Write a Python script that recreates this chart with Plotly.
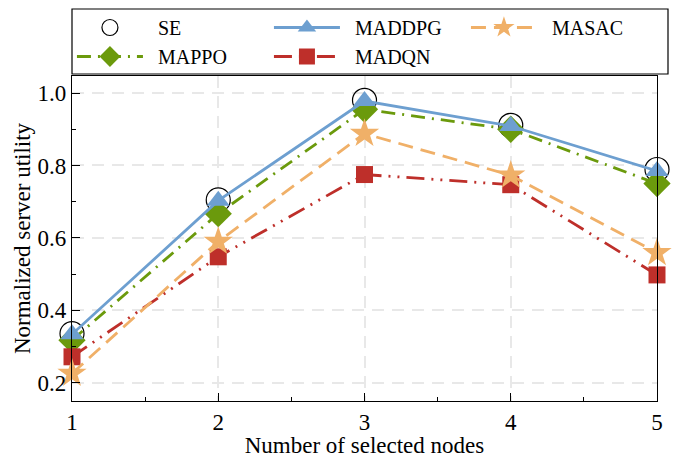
import plotly.graph_objects as go

nodes = [1, 2, 3, 4, 5]
se = [0.336, 0.705, 0.980, 0.911, 0.789]
maddpg = [0.334, 0.703, 0.978, 0.909, 0.785]
mappo = [0.318, 0.667, 0.955, 0.900, 0.750]
masac = [0.226, 0.590, 0.888, 0.773, 0.559]
madqn = [0.272, 0.548, 0.775, 0.747, 0.498]
names = ["SE", "MADDPG", "MASAC", "MAPPO", "MADQN"]

FONT = "Liberation Serif, Times New Roman, Times, serif"
BLUE = "#6d9fd0"
GREEN = "#6b9a0c"
ORANGE = "#f0b068"
RED = "#be2f2a"
PAD = "\u00a0\u00a0"

fig = go.Figure()
fig.add_trace(go.Scatter(x=nodes, y=se, name=PAD + names[0], mode="markers", cliponaxis=False,
                         marker=dict(symbol="circle-open", size=24, color="black",
                                     line=dict(width=1.2, color="black")),
                         legendrank=1))
fig.add_trace(go.Scatter(x=nodes, y=mappo, name=PAD + names[3], mode="lines+markers", cliponaxis=False,
                         line=dict(color=GREEN, width=2.8, dash="14px,7px,2px,7px"),
                         marker=dict(symbol="diamond", size=21, color=GREEN),
                         legendrank=4))
fig.add_trace(go.Scatter(x=nodes, y=maddpg, name=PAD + names[1], mode="lines+markers", cliponaxis=False,
                         line=dict(color=BLUE, width=2.8),
                         marker=dict(symbol="triangle-up", size=20, color=BLUE),
                         legendrank=2))
fig.add_trace(go.Scatter(x=nodes, y=madqn, name=PAD + names[4], mode="lines+markers", cliponaxis=False,
                         line=dict(color=RED, width=2.8, dash="18px,7px,2px,7px,2px,7px"),
                         marker=dict(symbol="square", size=17, color=RED),
                         legendrank=5))
fig.add_trace(go.Scatter(x=nodes, y=masac, name=PAD + names[2], mode="lines+markers", cliponaxis=False,
                         line=dict(color=ORANGE, width=2.8, dash="15px,8px"),
                         marker=dict(symbol="star", size=22, color=ORANGE),
                         legendrank=3))

axis_common = dict(
    showline=True, linecolor="black", linewidth=1.2, mirror=True,
    ticks="inside", ticklen=8, tickwidth=1.2, tickcolor="black",
    showgrid=True, gridcolor="#e8e8e8", gridwidth=2, griddash="12px,8px",
    zeroline=False, automargin=False,
    tickfont=dict(family=FONT, size=23, color="black"),
)

fig.update_xaxes(range=[1, 5], dtick=1, tick0=1,
                 minor=dict(dtick=0.5, ticks="inside", ticklen=4, tickcolor="black", showgrid=False),
                 title=dict(text="Number of selected nodes", font=dict(family=FONT, size=23, color="black"),
                            standoff=18),
                 **axis_common)
fig.update_yaxes(range=[0.15, 1.047], dtick=0.2, tick0=0.2, tickformat=".1f",
                 minor=dict(dtick=0.1, ticks="inside", ticklen=4, tickcolor="black", showgrid=False),
                 title=dict(text="Normalized server utility", font=dict(family=FONT, size=23, color="black"),
                            standoff=0),
                 **axis_common)

fig.update_layout(
    width=675, height=458,
    margin=dict(l=72, r=18, t=76, b=57, autoexpand=False),
    paper_bgcolor="white", plot_bgcolor="white",
    font=dict(family=FONT, size=20, color="black"),
    showlegend=True,
    legend=dict(orientation="h", x=-0.0001, y=(401 - 8) / 325, xanchor="left", yanchor="top",
                entrywidth=116, entrywidthmode="pixels", itemwidth=66,
                bgcolor="rgba(0,0,0,0)", borderwidth=0,
                font=dict(family=FONT, size=20, color="black"),
                tracegroupgap=0),
    shapes=[dict(type="rect", xref="paper", yref="paper",
                 x0=0, x1=(668 - 72) / 585, y0=(401 - 74) / 325, y1=(401 - 9) / 325,
                 line=dict(color="black", width=1.2), fillcolor="white", layer="above")],
)

fig.write_html("out.html")
